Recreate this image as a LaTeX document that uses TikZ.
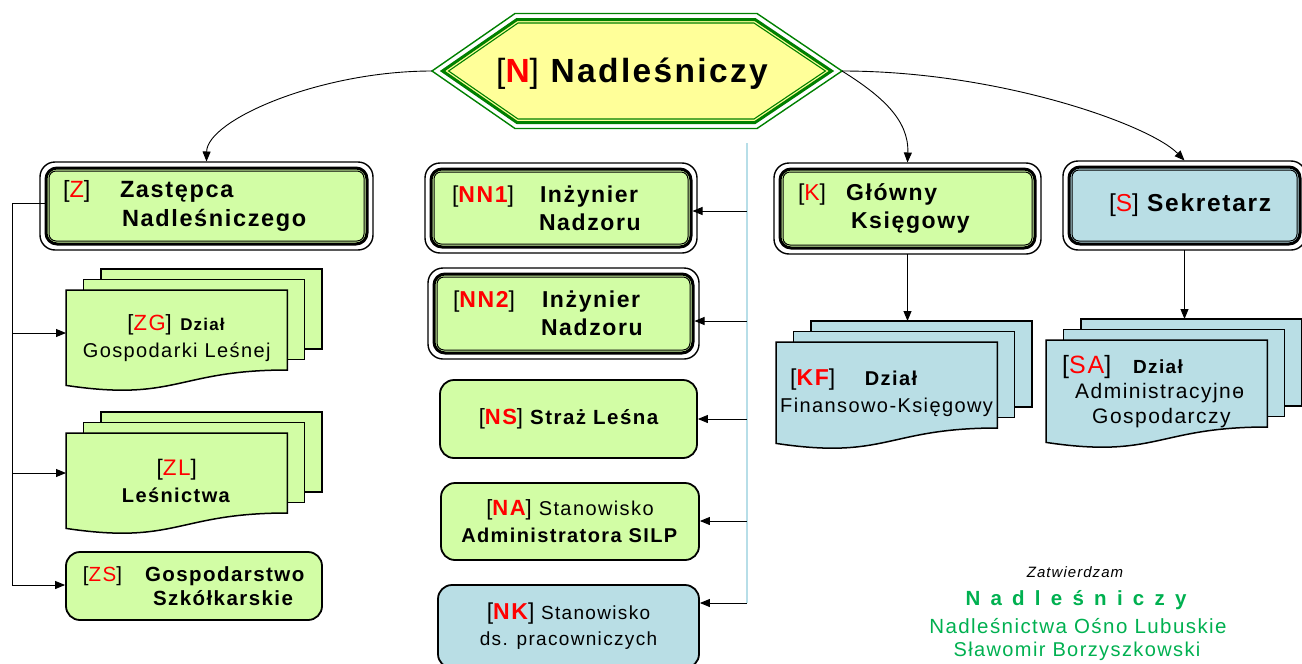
\documentclass[tikz,border=0pt]{standalone}
\usepackage{fontspec}
\setmainfont{Liberation Sans}[LetterSpace=7]
\newfontfamily\widefont{Liberation Sans}[LetterSpace=50]
\usetikzlibrary{arrows.meta,calc,backgrounds}
\definecolor{boxgreen}{RGB}{210,253,165}
\definecolor{boxblue}{RGB}{185,222,229}
\definecolor{hexyellow}{RGB}{255,255,153}
\definecolor{hexgreen}{RGB}{0,128,0}
\definecolor{siggreen}{RGB}{0,176,80}
\definecolor{codered}{RGB}{255,0,0}
\definecolor{spineblue}{RGB}{183,222,232}
\newcommand\fsz[2]{\fontsize{#1}{#2}\selectfont}
\newcommand\rd[1]{\textcolor{codered}{#1}}
\newcommand\triplerim[1]{%
  \draw[line width=1.4pt, rounded corners=15pt] ([shift={(-4.5,-4.5)}]#1.north west) rectangle ([shift={(4.5,4.5)}]#1.south east);
  \draw[line width=1pt, rounded corners=7pt] ([shift={(4.5,4.5)}]#1.north west) rectangle ([shift={(-4.5,-4.5)}]#1.south east);}
\newcommand\docstack[3]{%
  \begin{scope}[on background layer]
    \draw[docline, fill=#2] ($(#1.north west)+(35,-21)$) rectangle ++(221,#3);
    \draw[docline, fill=#2] ($(#1.north west)+(17.5,-10.5)$) rectangle ++(221,#3);
    \draw[docline, fill=#2] (#1.north west) -- (#1.north east) -- ($(#1.north east)+(0,#3)$)
      .. controls ($(#1.north)+(0,#3)$) and ($(#1.north)+(0,{#3+32})$) .. (#1.south west) -- cycle;
  \end{scope}}
\begin{document}
\begin{tikzpicture}[x=1pt,y=-1pt,
  tbox/.style={draw=black, line width=3pt, rounded corners=11pt, fill=#1, inner sep=0pt, align=left},
  rbox/.style={draw=black, line width=1.8pt, rounded corners=14pt, fill=#1, inner sep=0pt, align=center},
  docnode/.style={anchor=north west, inner sep=0pt, minimum width=221pt},
  docline/.style={draw=black, line width=1.5pt, line join=miter},
  arr/.style={-{Triangle[length=10pt,width=8pt]}, line width=0.9pt},
  spine/.style={line width=0.9pt},
  hexline/.style={draw=hexgreen, line join=miter}]
\useasboundingbox (0,0) rectangle (1302,664);

% ---- top hexagon
\draw[hexline, line width=1.4pt] (432,71) -- (515,13.5) -- (757,13.5) -- (842,71) -- (757,128.5) -- (515,128.5) -- cycle;
\draw[hexline, fill=hexyellow, line width=3pt] (442.5,71) -- (517,19.5) -- (755,19.5) -- (831.5,71) -- (755,122.5) -- (517,122.5) -- cycle;
\draw[hexline, line width=1.1pt] (448.6,71) -- (518,23) -- (754,23) -- (825.4,71) -- (754,119) -- (518,119) -- cycle;
\coordinate (NL) at (432,71);
\coordinate (NR) at (842,71);
\node[anchor=base, font=\bfseries\fsz{33.5}{40}] (N) at (632,82) {{\mdseries[}\rd{N}{\mdseries]} Nadleśniczy};

% ---- triple-border boxes
\node[tbox=boxgreen, minimum width=321pt, minimum height=76pt, text width=321pt, font=\bfseries\fsz{23.5}{29}] (Z) at (206.5,206)
  {\hspace*{17pt}\makebox[57pt][l]{\mdseries[\rd{Z}]}Zastępca\\\hspace*{76pt}Nadleśniczego};
\triplerim{Z}
\node[tbox=boxgreen, minimum width=260pt, minimum height=78pt, text width=260pt, font=\bfseries\fsz{23}{28}] (NN1) at (561,208)
  {\hspace*{21pt}\makebox[88pt][l]{\mdseries[\rd{\bfseries NN1}]}Inżynier\\\hspace*{108pt}Nadzoru};
\triplerim{NN1}
\node[tbox=boxgreen, minimum width=259pt, minimum height=79pt, text width=259pt, font=\bfseries\fsz{23}{28}] (NN2) at (563.5,313.5)
  {\hspace*{19pt}\makebox[89pt][l]{\mdseries[\rd{\bfseries NN2}]}Inżynier\\\hspace*{107pt}Nadzoru};
\triplerim{NN2}
\node[tbox=boxgreen, minimum width=255pt, minimum height=79pt, text width=255pt, font=\bfseries\fsz{23}{28}] (K) at (907.5,208.5)
  {\hspace*{18pt}\makebox[48pt][l]{\mdseries[\rd{K}]}Główny\\\hspace*{71pt}Księgowy};
\triplerim{K}
\node[tbox=boxblue, minimum width=231pt, minimum height=77pt, text width=231pt, font=\bfseries\fsz{24.5}{28}] (S) at (1184.5,205.5)
  {\hspace*{40pt}{\mdseries[\rd{S}]} Sekretarz};
\triplerim{S}

% ---- simple rounded boxes
\node[rbox=boxgreen, minimum width=257pt, minimum height=78pt, font=\bfseries\fsz{20.5}{27}] (NS) at (568.5,419)
  {{\fsz{22}{27}\mdseries[\rd{\bfseries NS}]} Straż Leśna};
\node[rbox=boxgreen, minimum width=258pt, minimum height=77pt, font=\fsz{20}{27}] (NA) at (570,521.5)
  {{\fsz{22}{27}[\rd{\bfseries NA}]} Stanowisko\\\textbf{Administratora SILP}};
\node[rbox=boxblue, minimum width=261pt, minimum height=83pt, font=\fsz{19}{26}] (NK) at (568.5,626.5)
  {{\fsz{23}{26}[\rd{\bfseries NK}]} Stanowisko\\ds. pracowniczych};
\node[rbox=boxgreen, minimum width=256pt, minimum height=68pt, text width=256pt, align=left, font=\bfseries\fsz{20.5}{24}] (ZS) at (194,586)
  {\hspace*{17pt}\makebox[62pt][l]{\mdseries[\rd{ZS}]}Gospodarstwo\\\hspace*{87pt}Szkółkarskie};

% ---- document stacks
\node[docnode, minimum height=95pt, align=center, font=\fsz{20}{27}] (ZG) at (66,290)
  {{\fsz{22}{27}[\rd{ZG}]} \textbf{\fsz{17}{27}Dział}\\Gospodarki Leśnej};
\docstack{ZG}{boxgreen}{80}
\node[docnode, minimum height=95pt, align=center, font=\fsz{22.5}{27}] (ZL) at (66,433)
  {[\rd{ZL}]\\\textbf{\fsz{20}{27}Leśnictwa}};
\docstack{ZL}{boxgreen}{80}
\node[docnode, minimum height=101pt, text width=221pt, align=left, font=\fsz{20}{27}] (KF) at (776,342)
  {\hspace*{14pt}{\fsz{23}{27}[\rd{\bfseries KF}]}\hspace{28pt}\textbf{Dział}\\\hspace*{4pt}Finansowo-Księgowy};
\docstack{KF}{boxblue}{86}
\node[docnode, minimum height=102pt, text width=221pt, align=left, font=\fsz{21}{25}] (SA) at (1046,340)
  {\hspace*{16pt}{\fsz{25}{25}[\rd{SA}]}\hspace{22pt}{\fsz{19}{25}\bfseries Dział}\\\hspace*{29pt}Administracyjno\kern-0.45em-\\\hspace*{46pt}Gospodarczy};
\docstack{SA}{boxblue}{87}

% ---- curved connectors from N
\draw[arr] (NL) .. controls (320,71) and (207,120) .. ([shift={(0,-5)}]Z.north);
\draw[arr] (NR) .. controls (882,96) and (909,120) .. ([shift={(0,-5)}]K.north);
\draw[arr] (NR) .. controls (1000,71) and (1150,125) .. ([shift={(0,-5)}]S.north);

% ---- left spine
\coordinate (zs1) at (12,203);
\coordinate (zs2) at (12,333);
\coordinate (zs3) at (12,473);
\coordinate (zs4) at (12,585);
\draw[spine] (zs1 -| Z.west) -- (zs1) -- (zs4);
\draw[arr] (zs2) -- (zs2 -| ZG.west);
\draw[arr] (zs3) -- (zs3 -| ZL.west);
\draw[arr] (zs4) -- (zs4 -| ZS.west);

% ---- middle spine
\coordinate (vt) at (747,143);
\coordinate (vb) at (747,603);
\draw[spineblue, line width=2.2pt] (vt) -- (vb);
\coordinate (m1) at (747,211);
\coordinate (m2) at (747,321);
\coordinate (m3) at (747,419);
\coordinate (m4) at (747,521);
\draw[arr] (m1) -- (m1 -| NN1.east);
\draw[arr] (m2) -- (m2 -| NN2.east);
\draw[arr] (m3) -- (m3 -| NS.east);
\draw[arr] (m4) -- (m4 -| NA.east);
\draw[arr] (vb) -- (vb -| NK.east);

% ---- down arrows to departments
\coordinate (kfb) at ($(KF.north west)+(35,-21)$);
\coordinate (sab) at ($(SA.north west)+(35,-21)$);
\draw[arr] ([shift={(0,4.5)}]K.south) -- (K.south |- kfb);
\draw[arr] ([shift={(0,4.5)}]S.south) -- (S.south |- sab);

% ---- approval text
\node[anchor=base, font=\itshape\fsz{15}{16}] (sig0) at (1075,577) {Zatwierdzam};
\node[anchor=base, text=siggreen, font=\widefont\bfseries\fsz{20.5}{24}] (sig1) at (1076,605) {Nadleśniczy};
\node[anchor=base, text=siggreen, font=\fsz{20.5}{24}] (sig2) at (1078,633) {Nadleśnictwa Ośno Lubuskie};
\node[anchor=base, text=siggreen, font=\fsz{20}{24}] (sig3) at (1077,656) {Sławomir Borzyszkowski};
\end{tikzpicture}
\end{document}
